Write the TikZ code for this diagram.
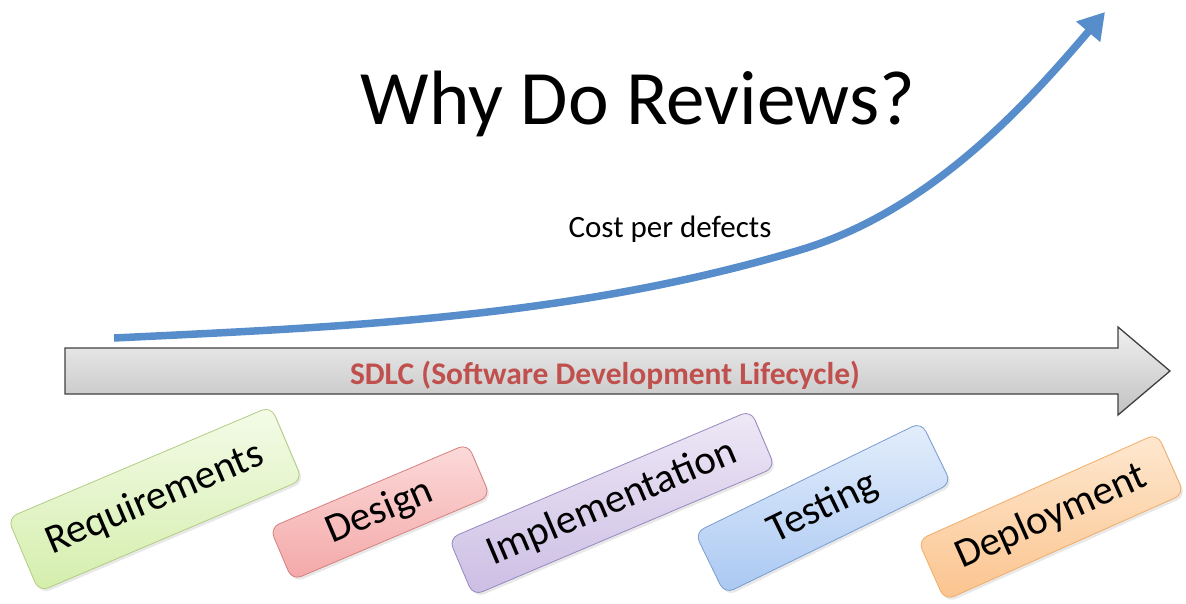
\documentclass[tikz,border=0pt]{standalone}
\usepackage{fontspec}
\setmainfont{Carlito}
\usetikzlibrary{arrows.meta,shadows}

\definecolor{costblue}{RGB}{88,141,204}
\definecolor{sdlcred}{RGB}{192,80,77}
\definecolor{reqtop}{RGB}{244,251,232}
\definecolor{reqbot}{RGB}{212,238,172}
\definecolor{reqline}{RGB}{178,204,130}
\definecolor{destop}{RGB}{252,218,218}
\definecolor{desbot}{RGB}{244,168,168}
\definecolor{desline}{RGB}{214,128,128}
\definecolor{imptop}{RGB}{238,232,246}
\definecolor{impbot}{RGB}{204,190,228}
\definecolor{impline}{RGB}{150,136,190}
\definecolor{testop}{RGB}{228,238,252}
\definecolor{tesbot}{RGB}{170,200,242}
\definecolor{tesline}{RGB}{120,156,208}
\definecolor{deptop}{RGB}{254,232,208}
\definecolor{depbot}{RGB}{251,196,142}
\definecolor{depline}{RGB}{242,172,104}

\begin{document}
\begin{tikzpicture}[x=1pt,y=-1pt,
  phase/.style={draw, rounded corners=10pt, inner sep=0pt, line width=0.8pt,
    font=\fontsize{41}{48}\selectfont,
    drop shadow={opacity=0.18, shadow xshift=2pt, shadow yshift=-2.5pt}},
  costline/.style={line width=7.5pt, draw=costblue, -{Triangle[length=26pt,width=30pt]}},
  sdlcbar/.style={draw=black!75, line width=1.3pt, top color=black!6, bottom color=black!24}]
\useasboundingbox (0,0) rectangle (1186,603);
\node [anchor=base, font=\fontsize{77}{90}\selectfont] (title) at (638,124) {Why Do Reviews?};
\node [anchor=base, font=\fontsize{31}{36}\selectfont] (costlabel) at (670,237) {Cost per defects};
\coordinate (costlow) at (114,338);
\coordinate (costbend) at (800,250);
\coordinate (costhigh) at (1105,12);
\draw [costline] (costlow) .. controls (343,327) and (572,318) .. (costbend)
  .. controls (930,211) and (1025,106) .. (costhigh);
\draw [sdlcbar] (65,348) -- (1118,348) -- (1118,327) -- (1170,371) -- (1118,415)
  -- (1118,394) -- (65,394) -- cycle;
\node [anchor=base, text=sdlcred, font=\fontsize{31.5}{38}\selectfont\bfseries] (sdlc) at (605,384)
  {SDLC (Software Development Lifecycle)};
\node [phase, rotate=23, minimum width=286pt, minimum height=80pt, draw=reqline,
  top color=reqtop, bottom color=reqbot] (req) at (155,499) {Requirements};
\node [phase, rotate=23, minimum width=215pt, minimum height=57pt, draw=desline,
  top color=destop, bottom color=desbot] (des) at (380,512) {Design};
\node [phase, rotate=23, minimum width=328pt, minimum height=62pt, draw=impline,
  top color=imptop, bottom color=impbot] (imp) at (612,503) {Implementation};
\node [phase, rotate=26, minimum width=252pt, minimum height=68pt, draw=tesline,
  top color=testop, bottom color=tesbot] (tes) at (823,508) {Testing};
\node [phase, rotate=24, minimum width=262pt, minimum height=66pt, draw=depline,
  top color=deptop, bottom color=depbot] (dep) at (1051,517) {Deployment};
\end{tikzpicture}
\end{document}
